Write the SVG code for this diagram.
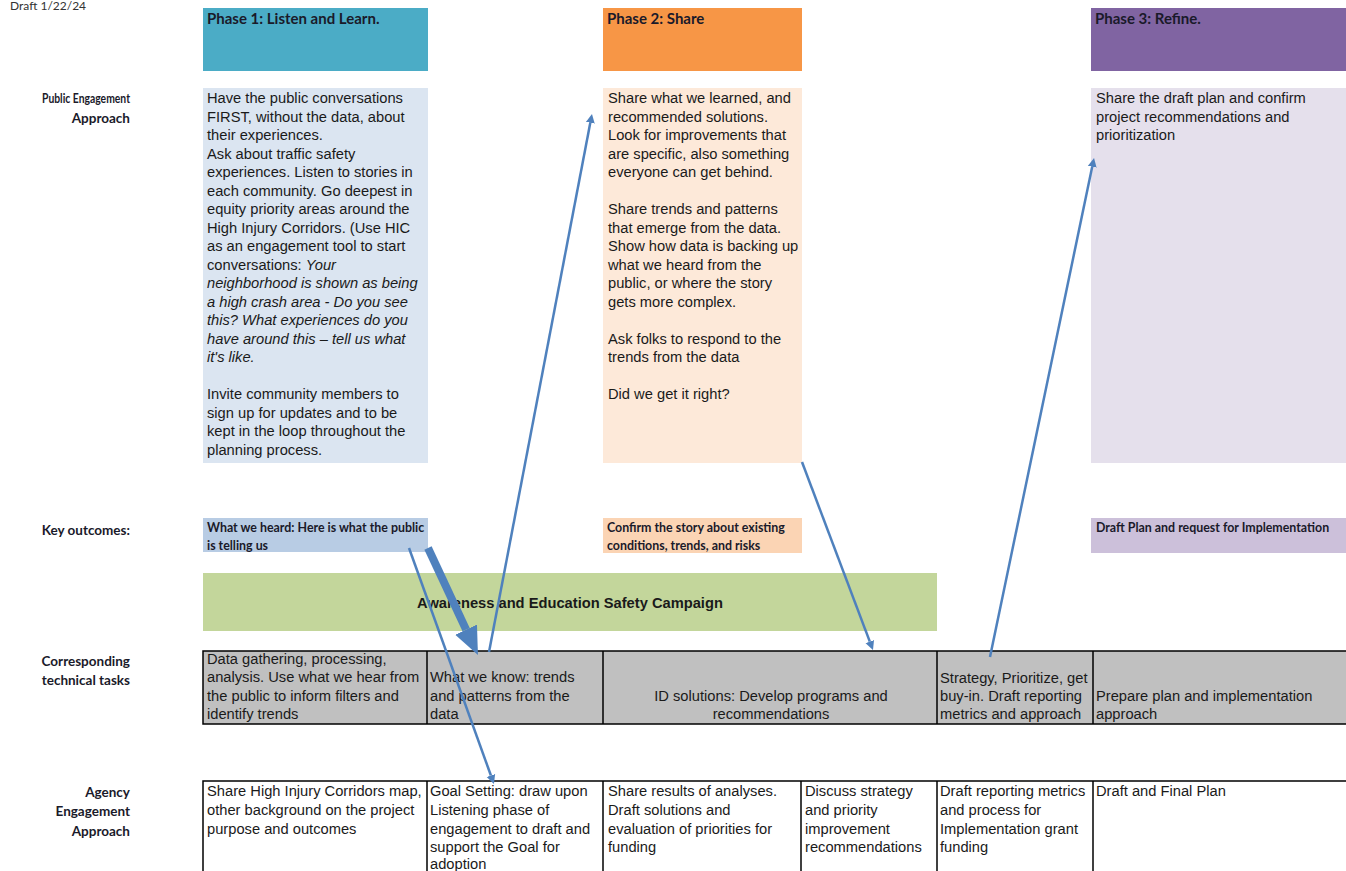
<svg xmlns="http://www.w3.org/2000/svg" width="1346" height="871" viewBox="0 0 1346 871">
<defs>
<style>
.lbl{font-family:Lato,"Liberation Sans",sans-serif;font-weight:bold;font-size:13.5px;fill:#1a1a2a;text-anchor:end}
.hdr{font-family:Lato,"Liberation Sans",sans-serif;font-weight:bold;font-size:15px;fill:#1a1a2a}
.ko{font-family:Lato,"Liberation Sans",sans-serif;font-weight:bold;font-size:12.4px;fill:#1a1a2a}
.body{font-family:"Liberation Sans",Arial,sans-serif;font-size:14.7px;fill:#1a1a1a}
.it{font-style:italic}
.cell{stroke:#000;stroke-width:1.5}
.conn{stroke:#4f81bd;stroke-width:2.5;fill:none}
.thick{stroke-width:8}
</style>
<marker id="head" markerUnits="userSpaceOnUse" markerWidth="10" markerHeight="10" viewBox="0 -5 10 10" refX="0" refY="0" orient="auto">
<path d="M0,-4.5 L9,0 L0,4.5 z" fill="#4f81bd"/>
</marker>
<marker id="bighead" markerUnits="userSpaceOnUse" markerWidth="30" markerHeight="28" viewBox="0 -14 30 28" refX="0" refY="0" orient="auto">
<path d="M0,-12 L28,0 L0,12 z" fill="#4f81bd"/>
</marker>
</defs>
<rect width="1346" height="871" fill="#fff"/>

<g id="draft"><text x="10" y="10" font-family="Lato,'Liberation Sans',sans-serif" font-size="12" fill="#333">Draft 1/22/24</text></g>

<g id="row-labels">
<text class="lbl" x="130" y="103" textLength="88" lengthAdjust="spacingAndGlyphs">Public Engagement</text>
<text class="lbl" x="130" y="123">Approach</text>
<text class="lbl" x="130" y="535">Key outcomes:</text>
<text class="lbl" x="130" y="666">Corresponding</text>
<text class="lbl" x="130" y="685">technical tasks</text>
<text class="lbl" x="130" y="797">Agency</text>
<text class="lbl" x="130" y="816">Engagement</text>
<text class="lbl" x="130" y="836">Approach</text>
</g>

<g id="phase1-header">
<rect x="203" y="8" width="225" height="63" fill="#4bacc6"/>
<text class="hdr" x="207" y="24">Phase 1: Listen and Learn.</text>
</g>
<g id="phase2-header">
<rect x="603" y="8" width="199" height="63" fill="#f79646"/>
<text class="hdr" x="607" y="24">Phase 2: Share</text>
</g>
<g id="phase3-header">
<rect x="1091" y="8" width="255" height="63" fill="#8064a2"/>
<text class="hdr" x="1095" y="24">Phase 3: Refine.</text>
</g>

<g id="phase1-public">
<rect x="203" y="88" width="225" height="375" fill="#dbe5f1"/>
<text class="body" x="207" y="103">Have the public conversations</text>
<text class="body" x="207" y="121.5">FIRST, without the data, about</text>
<text class="body" x="207" y="140">their experiences.</text>
<text class="body" x="207" y="158.5">Ask about traffic safety</text>
<text class="body" x="207" y="177">experiences. Listen to stories in</text>
<text class="body" x="207" y="195.5">each community. Go deepest in</text>
<text class="body" x="207" y="214">equity priority areas around the</text>
<text class="body" x="207" y="232.5">High Injury Corridors. (Use HIC</text>
<text class="body" x="207" y="251">as an engagement tool to start</text>
<text class="body" x="207" y="269.5">conversations: <tspan class="it">Your</tspan></text>
<text class="body it" x="207" y="288">neighborhood is shown as being</text>
<text class="body it" x="207" y="306.5">a high crash area - Do you see</text>
<text class="body it" x="207" y="325">this? What experiences do you</text>
<text class="body it" x="207" y="343.5">have around this – tell us what</text>
<text class="body it" x="207" y="362">it's like.</text>
<text class="body" x="207" y="399">Invite community members to</text>
<text class="body" x="207" y="417.5">sign up for updates and to be</text>
<text class="body" x="207" y="436">kept in the loop throughout the</text>
<text class="body" x="207" y="454.5">planning process.</text>
</g>

<g id="phase2-public">
<rect x="603" y="88" width="199" height="375" fill="#fde9d9"/>
<text class="body" x="608" y="103">Share what we learned, and</text>
<text class="body" x="608" y="121.5">recommended solutions.</text>
<text class="body" x="608" y="140">Look for improvements that</text>
<text class="body" x="608" y="158.5">are specific, also something</text>
<text class="body" x="608" y="177">everyone can get behind.</text>
<text class="body" x="608" y="214">Share trends and patterns</text>
<text class="body" x="608" y="232.5">that emerge from the data.</text>
<text class="body" x="608" y="251">Show how data is backing up</text>
<text class="body" x="608" y="269.5">what we heard from the</text>
<text class="body" x="608" y="288">public, or where the story</text>
<text class="body" x="608" y="306.5">gets more complex.</text>
<text class="body" x="608" y="343.5">Ask folks to respond to the</text>
<text class="body" x="608" y="362">trends from the data</text>
<text class="body" x="608" y="399">Did we get it right?</text>
</g>

<g id="phase3-public">
<rect x="1091" y="88" width="255" height="375" fill="#e5e0ec"/>
<text class="body" x="1096" y="103">Share the draft plan and confirm</text>
<text class="body" x="1096" y="121.5">project recommendations and</text>
<text class="body" x="1096" y="140">prioritization</text>
</g>

<g id="phase1-outcome">
<rect x="203" y="518" width="225" height="34" fill="#b8cce4"/>
<text class="ko" x="207" y="531.5">What we heard: Here is what the public</text>
<text class="ko" x="207" y="549.5">is telling us</text>
</g>
<g id="phase2-outcome">
<rect x="603" y="518" width="199" height="35" fill="#fbd4b4"/>
<text class="ko" x="607" y="531.5">Confirm the story about existing</text>
<text class="ko" x="607" y="549.5">conditions, trends, and risks</text>
</g>
<g id="phase3-outcome">
<rect x="1091" y="518" width="255" height="35" fill="#ccc0da"/>
<text class="ko" x="1096" y="531.5">Draft Plan and request for Implementation</text>
</g>

<g id="campaign">
<rect x="203" y="573" width="734" height="58" fill="#c3d69b"/>
<text x="570" y="607.5" text-anchor="middle" font-family="'Liberation Sans',Arial,sans-serif" font-weight="bold" font-size="14.7" fill="#1a1a1a">Awareness and Education Safety Campaign</text>
</g>

<g id="technical-tasks">
<rect class="cell" x="203" y="651" width="1150" height="73" fill="#c0c0c0"/>
<line class="cell" x1="427" y1="651" x2="427" y2="724"/>
<line class="cell" x1="603" y1="651" x2="603" y2="724"/>
<line class="cell" x1="937" y1="651" x2="937" y2="724"/>
<line class="cell" x1="1093" y1="651" x2="1093" y2="724"/>
</g>
<g id="task1">
<text class="body" x="207" y="664">Data gathering, processing,</text>
<text class="body" x="207" y="682">analysis. Use what we hear from</text>
<text class="body" x="207" y="701">the public to inform filters and</text>
<text class="body" x="207" y="719">identify trends</text>
</g>
<g id="task2">
<text class="body" x="430" y="682">What we know: trends</text>
<text class="body" x="430" y="701">and patterns from the</text>
<text class="body" x="430" y="719">data</text>
</g>
<g id="task3">
<text class="body" x="771" y="701" text-anchor="middle">ID solutions: Develop programs and</text>
<text class="body" x="771" y="719" text-anchor="middle">recommendations</text>
</g>
<g id="task4">
<text class="body" x="940" y="683">Strategy, Prioritize, get</text>
<text class="body" x="940" y="701">buy-in. Draft reporting</text>
<text class="body" x="940" y="719">metrics and approach</text>
</g>
<g id="task5">
<text class="body" x="1096" y="701">Prepare plan and implementation</text>
<text class="body" x="1096" y="719">approach</text>
</g>

<g id="agency-row">
<rect class="cell" x="203" y="781" width="1150" height="100" fill="#fff"/>
<line class="cell" x1="427" y1="781" x2="427" y2="871"/>
<line class="cell" x1="603" y1="781" x2="603" y2="871"/>
<line class="cell" x1="801" y1="781" x2="801" y2="871"/>
<line class="cell" x1="937" y1="781" x2="937" y2="871"/>
<line class="cell" x1="1093" y1="781" x2="1093" y2="871"/>
</g>
<g id="agency1">
<text class="body" x="207" y="796">Share High Injury Corridors map,</text>
<text class="body" x="207" y="815">other background on the project</text>
<text class="body" x="207" y="834">purpose and outcomes</text>
</g>
<g id="agency2">
<text class="body" x="430" y="796">Goal Setting: draw upon</text>
<text class="body" x="430" y="815">Listening phase of</text>
<text class="body" x="430" y="834">engagement to draft and</text>
<text class="body" x="430" y="852">support the Goal for</text>
<text class="body" x="430" y="869">adoption</text>
</g>
<g id="agency3">
<text class="body" x="608" y="796">Share results of analyses.</text>
<text class="body" x="608" y="815">Draft solutions and</text>
<text class="body" x="608" y="834">evaluation of priorities for</text>
<text class="body" x="608" y="852">funding</text>
</g>
<g id="agency4">
<text class="body" x="805" y="796">Discuss strategy</text>
<text class="body" x="805" y="815">and priority</text>
<text class="body" x="805" y="834">improvement</text>
<text class="body" x="805" y="852">recommendations</text>
</g>
<g id="agency5">
<text class="body" x="940" y="796">Draft reporting metrics</text>
<text class="body" x="940" y="815">and process for</text>
<text class="body" x="940" y="834">Implementation grant</text>
<text class="body" x="940" y="852">funding</text>
</g>
<g id="agency6">
<text class="body" x="1096" y="796">Draft and Final Plan</text>
</g>

<g id="connectors">
<line class="conn" x1="409" y1="548" x2="490.9" y2="775.5" marker-end="url(#head)"/>
<line class="conn thick" x1="428" y1="548" x2="466.1" y2="629.6" marker-end="url(#bighead)"/>
<line class="conn" x1="489" y1="652" x2="590.3" y2="122.8" marker-end="url(#head)"/>
<line class="conn" x1="802" y1="462" x2="869.8" y2="641.6" marker-end="url(#head)"/>
<line class="conn" x1="990" y1="657" x2="1092.2" y2="166.8" marker-end="url(#head)"/>
</g>
</svg>
